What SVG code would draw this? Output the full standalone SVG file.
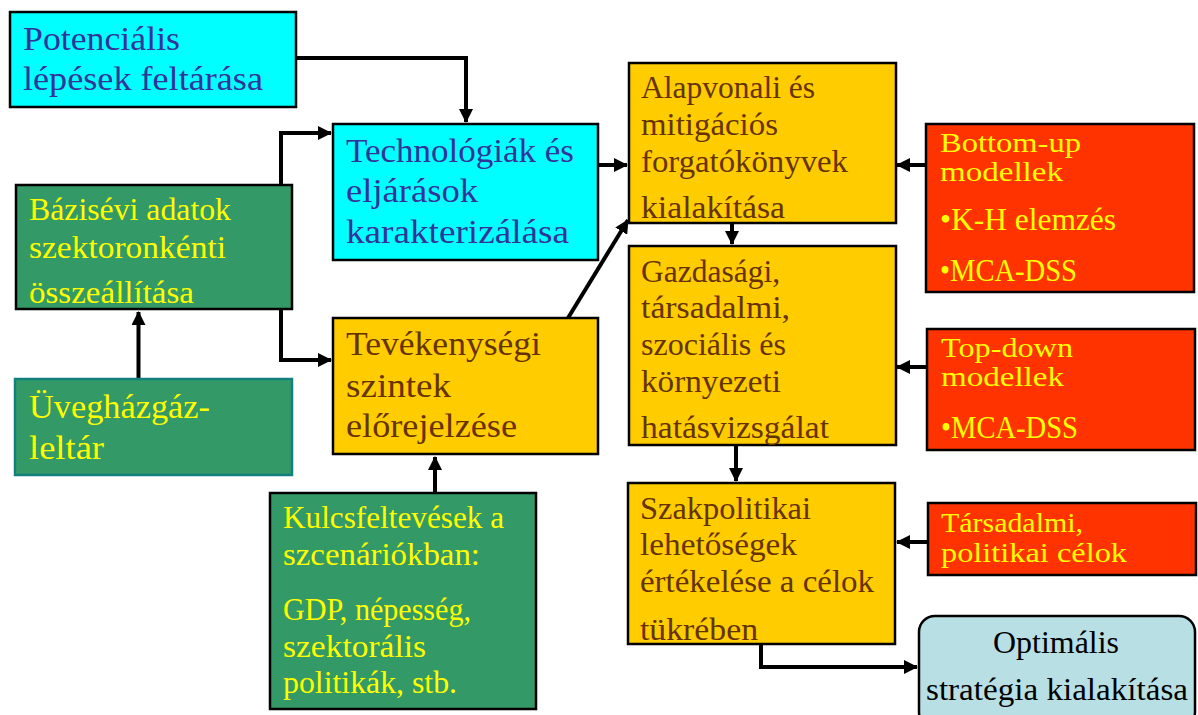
<svg xmlns="http://www.w3.org/2000/svg" width="1198" height="715" viewBox="0 0 1198 715">
  <style>
    text { font-family: "Liberation Serif", "DejaVu Serif", serif; }
    .cyan { fill: #00FFFF; stroke: #000; stroke-width: 2.5; }
    .green { fill: #339966; stroke: #000; stroke-width: 2.5; }
    .green2 { fill: #339966; stroke: #138080; stroke-width: 2.5; }
    .gold { fill: #FFCC00; stroke: #000; stroke-width: 2.5; }
    .red { fill: #FF3300; stroke: #000; stroke-width: 2.5; }
    .pale { fill: #B8DFE3; stroke: #000; stroke-width: 2.5; }
    .tb { fill: #333399; font-size: 34px; }
    .ty { fill: #FFFF00; font-size: 31px; }
    .tys { fill: #FFFF00; font-size: 28px; }
    .tyb { fill: #FFFF00; font-size: 34px; }
    .tr { fill: #663300; font-size: 32px; }
    .trb { fill: #663300; font-size: 34px; }
    .tk { fill: #000; font-size: 31px; }
    .conn { fill: none; stroke: #000; stroke-width: 4; }
  </style>
  <defs>
    <marker id="arrow" markerUnits="userSpaceOnUse" markerWidth="14" markerHeight="14" viewBox="0 0 14 14" refX="13" refY="7" orient="auto">
      <path d="M0,0 L14,7 L0,14 Z" fill="#000"/>
    </marker>
  </defs>

  <!-- connectors -->
  <g id="connectors">
    <polyline class="conn" points="296,58 466,58 466,122" marker-end="url(#arrow)"/>
    <polyline class="conn" points="281,185 281,133 331,133" marker-end="url(#arrow)"/>
    <polyline class="conn" points="281,310 281,360 331,360" marker-end="url(#arrow)"/>
    <line class="conn" x1="138.5" y1="379" x2="138.5" y2="312" marker-end="url(#arrow)"/>
    <line class="conn" x1="435" y1="493" x2="435" y2="457" marker-end="url(#arrow)"/>
    <line class="conn" x1="568" y1="318" x2="628" y2="220" marker-end="url(#arrow)"/>
    <line class="conn" x1="598" y1="165" x2="627" y2="165" marker-end="url(#arrow)"/>
    <line class="conn" x1="926" y1="165" x2="897" y2="165" marker-end="url(#arrow)"/>
    <line class="conn" x1="732" y1="223" x2="732" y2="244" marker-end="url(#arrow)"/>
    <line class="conn" x1="926" y1="367" x2="897" y2="367" marker-end="url(#arrow)"/>
    <line class="conn" x1="736" y1="445" x2="736" y2="481" marker-end="url(#arrow)"/>
    <line class="conn" x1="928" y1="542" x2="897" y2="542" marker-end="url(#arrow)"/>
    <polyline class="conn" points="761,644 761,667 917,667" marker-end="url(#arrow)"/>
  </g>

  <!-- left column -->
  <g id="potencialis">
    <rect class="cyan" x="10" y="12" width="286" height="95"/>
    <text class="tb" x="23" y="50" textLength="157" lengthAdjust="spacingAndGlyphs">Potenciális</text>
    <text class="tb" x="23" y="90" textLength="240" lengthAdjust="spacingAndGlyphs">lépések feltárása</text>
  </g>

  <g id="bazisevi">
    <rect class="green" x="16" y="185" width="276" height="124"/>
    <text class="ty" x="29" y="220" textLength="202" lengthAdjust="spacingAndGlyphs">Bázisévi adatok</text>
    <text class="ty" x="29" y="258" textLength="197" lengthAdjust="spacingAndGlyphs">szektoronkénti</text>
    <text class="ty" x="29" y="303" textLength="165" lengthAdjust="spacingAndGlyphs">összeállítása</text>
  </g>

  <g id="uveghazgaz">
    <rect class="green2" x="15" y="379" width="277" height="96"/>
    <text class="tyb" x="29" y="418" textLength="181" lengthAdjust="spacingAndGlyphs">Üvegházgáz-</text>
    <text class="tyb" x="29" y="459" textLength="75" lengthAdjust="spacingAndGlyphs">leltár</text>
  </g>

  <!-- middle column -->
  <g id="technologiak">
    <rect class="cyan" x="333" y="124" width="265" height="136"/>
    <text class="tb" x="346" y="162" textLength="228" lengthAdjust="spacingAndGlyphs">Technológiák és</text>
    <text class="tb" x="346" y="202" textLength="132" lengthAdjust="spacingAndGlyphs">eljárások</text>
    <text class="tb" x="346" y="243" textLength="223" lengthAdjust="spacingAndGlyphs">karakterizálása</text>
  </g>

  <g id="tevekenysegi">
    <rect class="gold" x="333" y="318" width="265" height="136"/>
    <text class="trb" x="346" y="355" textLength="195" lengthAdjust="spacingAndGlyphs">Tevékenységi</text>
    <text class="trb" x="346" y="397" textLength="105" lengthAdjust="spacingAndGlyphs">szintek</text>
    <text class="trb" x="346" y="437" textLength="171" lengthAdjust="spacingAndGlyphs">előrejelzése</text>
  </g>

  <g id="kulcsfeltevesek">
    <rect class="green" x="270" y="493" width="266" height="216"/>
    <text class="ty" x="283" y="528" textLength="221" lengthAdjust="spacingAndGlyphs">Kulcsfeltevések a</text>
    <text class="ty" x="283" y="565" textLength="197" lengthAdjust="spacingAndGlyphs">szcenáriókban:</text>
    <text class="ty" x="283" y="620" textLength="188" lengthAdjust="spacingAndGlyphs">GDP, népesség,</text>
    <text class="ty" x="283" y="657" textLength="143" lengthAdjust="spacingAndGlyphs">szektorális</text>
    <text class="ty" x="283" y="693" textLength="174" lengthAdjust="spacingAndGlyphs">politikák, stb.</text>
  </g>

  <!-- scenario column -->
  <g id="alapvonali">
    <rect class="gold" x="629" y="63" width="267" height="160"/>
    <text class="tr" x="641" y="98" textLength="174" lengthAdjust="spacingAndGlyphs">Alapvonali és</text>
    <text class="tr" x="641" y="135" textLength="137" lengthAdjust="spacingAndGlyphs">mitigációs</text>
    <text class="tr" x="641" y="172" textLength="207" lengthAdjust="spacingAndGlyphs">forgatókönyvek</text>
    <text class="tr" x="641" y="218" textLength="144" lengthAdjust="spacingAndGlyphs">kialakítása</text>
  </g>

  <g id="gazdasagi">
    <rect class="gold" x="629" y="246" width="267" height="199"/>
    <text class="tr" x="641" y="282" textLength="139" lengthAdjust="spacingAndGlyphs">Gazdasági,</text>
    <text class="tr" x="641" y="318" textLength="149" lengthAdjust="spacingAndGlyphs">társadalmi,</text>
    <text class="tr" x="641" y="355" textLength="145" lengthAdjust="spacingAndGlyphs">szociális és</text>
    <text class="tr" x="641" y="392" textLength="140" lengthAdjust="spacingAndGlyphs">környezeti</text>
    <text class="tr" x="641" y="438" textLength="188" lengthAdjust="spacingAndGlyphs">hatásvizsgálat</text>
  </g>

  <g id="szakpolitikai">
    <rect class="gold" x="628" y="483" width="267" height="161"/>
    <text class="tr" x="640" y="519" textLength="171" lengthAdjust="spacingAndGlyphs">Szakpolitikai</text>
    <text class="tr" x="640" y="555" textLength="157" lengthAdjust="spacingAndGlyphs">lehetőségek</text>
    <text class="tr" x="640" y="592" textLength="234" lengthAdjust="spacingAndGlyphs">értékelése a célok</text>
    <text class="tr" x="640" y="640" textLength="118" lengthAdjust="spacingAndGlyphs">tükrében</text>
  </g>

  <!-- model inputs -->
  <g id="bottom-up">
    <rect class="red" x="926" y="124" width="268" height="168"/>
    <text class="tys" x="940" y="152" textLength="141" lengthAdjust="spacingAndGlyphs">Bottom-up</text>
    <text class="tys" x="940" y="181" textLength="123" lengthAdjust="spacingAndGlyphs">modellek</text>
    <text class="ty" x="940" y="230" textLength="176" lengthAdjust="spacingAndGlyphs">•K-H elemzés</text>
    <text class="ty" x="940" y="281" textLength="137" lengthAdjust="spacingAndGlyphs">•MCA-DSS</text>
  </g>

  <g id="top-down">
    <rect class="red" x="927" y="329" width="268" height="121"/>
    <text class="tys" x="941" y="357" textLength="132" lengthAdjust="spacingAndGlyphs">Top-down</text>
    <text class="tys" x="941" y="386" textLength="123" lengthAdjust="spacingAndGlyphs">modellek</text>
    <text class="ty" x="941" y="438" textLength="137" lengthAdjust="spacingAndGlyphs">•MCA-DSS</text>
  </g>

  <g id="tarsadalmi">
    <rect class="red" x="928" y="503" width="268" height="72"/>
    <text class="tys" x="941" y="532" textLength="142" lengthAdjust="spacingAndGlyphs">Társadalmi,</text>
    <text class="tys" x="941" y="562" textLength="186" lengthAdjust="spacingAndGlyphs">politikai célok</text>
  </g>

  <!-- result -->
  <g id="optimalis">
    <rect class="pale" x="919" y="616" width="276" height="112" rx="16" ry="16"/>
    <text class="tk" x="1056" y="653" text-anchor="middle" textLength="126" lengthAdjust="spacingAndGlyphs">Optimális</text>
    <text class="tk" x="926" y="700" textLength="262" lengthAdjust="spacingAndGlyphs">stratégia kialakítása</text>
  </g>
</svg>
